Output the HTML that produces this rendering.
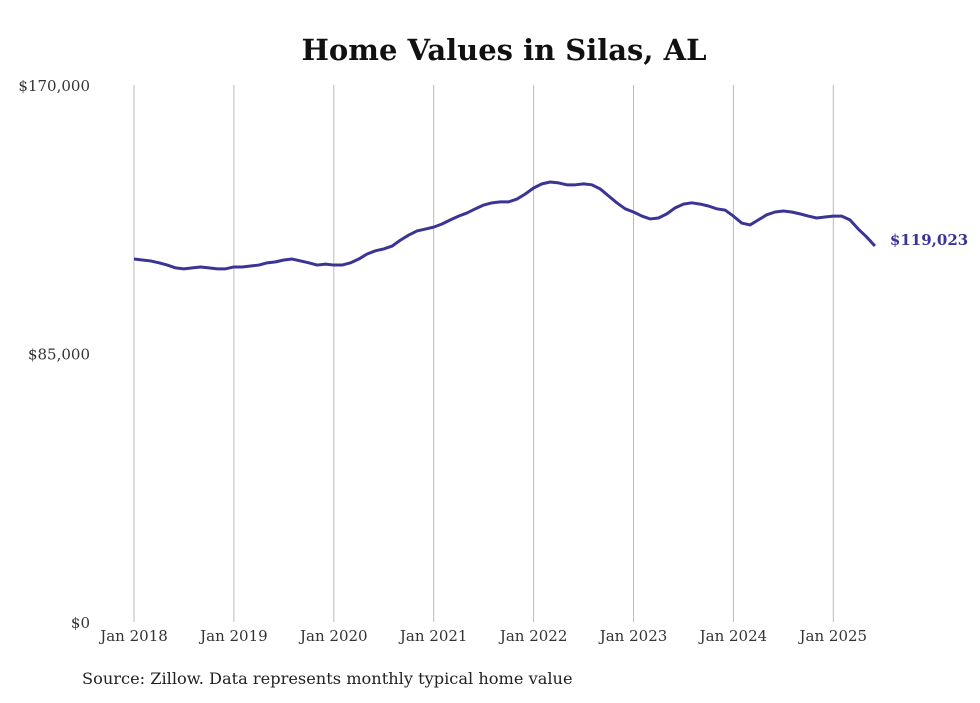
<!DOCTYPE html>
<html><head><meta charset="utf-8"><style>
body{margin:0;background:#fff;width:980px;height:699px;overflow:hidden;font-family:"DejaVu Serif","Liberation Serif",serif}
</style></head><body>
<svg width="980" height="699" id="c">
<text x="504" y="60" text-anchor="middle" font-size="29" font-weight="bold" fill="#111">Home Values in Silas, AL</text>
<text x="82" y="684" font-size="16.2" fill="#222">Source: Zillow. Data represents monthly typical home value</text>
</svg>
<script>
const yTicks=[0,85000,170000];
const yLabels=["$0","$85,000","$170,000"];
const xTickYears=[2018,2019,2020,2021,2022,2023,2024,2025];
const values=[114.9,114.6,114.3,113.7,113.0,112.1,111.8,112.1,112.4,112.1,111.8,111.8,
112.4,112.4,112.7,113.0,113.7,114.0,114.6,114.9,114.3,113.7,113.0,113.3,
113.0,113.0,113.7,114.9,116.5,117.5,118.1,119.0,120.9,122.5,123.8,124.4,
125.0,126.0,127.3,128.5,129.5,130.8,132.0,132.7,133.0,133.0,133.9,135.5,
137.4,138.7,139.3,139.0,138.4,138.4,138.7,138.4,137.1,134.9,132.7,130.8,
129.8,128.5,127.6,127.9,129.2,131.1,132.3,132.7,132.3,131.7,130.8,130.4,
128.5,126.3,125.7,127.3,128.9,129.8,130.1,129.8,129.2,128.5,127.9,128.2,
128.5,128.5,127.3,124.4,121.9,119.023].map(v=>v*1000);
const lastLabel="$119,023";
const svg=document.getElementById('c');const NS='http://www.w3.org/2000/svg';
const X0=134,PX_YEAR=99.9,Y0=622,Y1=85,YMAX=170000;
const xs=i=>X0+i*PX_YEAR/12;
const ys=v=>Y0-(v/YMAX)*(Y0-Y1);
function mk(t,a){const e=document.createElementNS(NS,t);for(const k in a)e.setAttribute(k,a[k]);svg.appendChild(e);return e;}
xTickYears.forEach((yr,i)=>{
 const x=xs((yr-2018)*12);
 const g=mk('line',{x1:x,x2:x,y1:Y1,y2:Y0,stroke:'#bbb','stroke-width':1});
 
 
 const t=mk('text',{x:x,y:641,'text-anchor':'middle','font-size':15,fill:'#333'});
 t.textContent='Jan '+yr;
 
 
});
yTicks.forEach((v,i)=>{
 const t=mk('text',{x:90,y:ys(v)+6,'text-anchor':'end','font-size':15,fill:'#333'});
 t.textContent=yLabels[i];
 
 
});
const p=mk('polyline',{points:values.map((v,i)=>xs(i)+','+ys(v)).join(' '),fill:'none',stroke:'#3b3497','stroke-width':3,'stroke-linejoin':'round'});


const li=values.length-1;
const lt=mk('text',{x:xs(li)+15,y:ys(values[li])-1,'font-size':15,'font-weight':'bold',fill:'#3b3497'});
lt.textContent=lastLabel;


</script>
</body></html>
